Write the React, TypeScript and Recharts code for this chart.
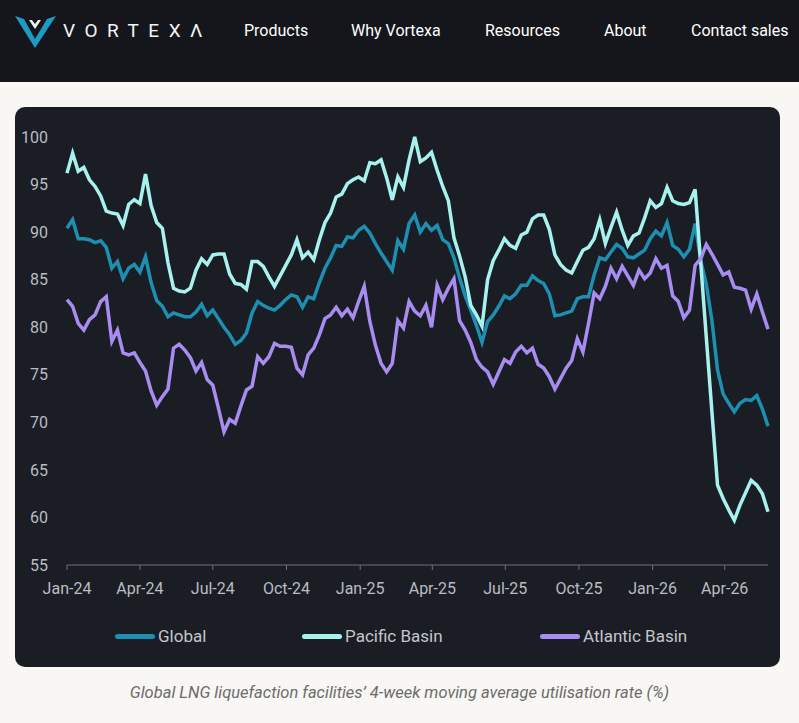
import React from 'react';
import { LineChart, Line, XAxis, YAxis } from 'recharts';

// weekly 4-week moving average utilisation rate (%), first week = Jan 1 2024
const GLOBAL = [
  90.4, 91.3, 89.3, 89.3, 89.2, 88.9, 89.1, 88.4, 86.2, 86.9,
  85.1, 86.2, 86.6, 85.8, 87.4, 84.7, 82.8, 82.2, 81.1, 81.5,
  81.3, 81.1, 81.1, 81.6, 82.4, 81.2, 81.8, 80.9, 80.0, 79.2,
  78.2, 78.6, 79.4, 81.5, 82.7, 82.3, 82.0, 81.8, 82.3, 82.9,
  83.4, 83.2, 82.1, 83.2, 83.0, 84.7, 86.2, 87.3, 88.6, 88.5,
  89.5, 89.4, 90.2, 90.6, 89.9, 88.8, 87.8, 86.9, 86.0, 89.1,
  88.2, 90.9, 91.8, 90.0, 90.9, 90.2, 90.7, 89.2, 88.8, 87.3,
  85.2, 83.3, 81.8, 80.2, 78.4, 80.6, 81.3, 82.2, 83.3, 83.0,
  83.5, 84.4, 84.4, 85.4, 84.9, 84.6, 83.5, 81.2, 81.3, 81.5,
  81.7, 83.0, 83.2, 83.2, 85.5, 87.3, 87.1, 87.9, 88.7, 88.3,
  87.4, 87.3, 87.7, 88.1, 89.3, 90.1, 89.6, 91.0, 88.6, 88.2,
  87.4, 88.2, 90.9, 87.0, 84.5, 80.7, 75.5, 73.0, 72.0, 71.1,
  72.0, 72.4, 72.3, 72.8, 71.4, 69.6,
];

const PACIFIC = [
  96.2, 98.3, 96.4, 96.8, 95.5, 94.8, 93.8, 92.2, 92.0, 91.9,
  90.7, 92.9, 93.4, 93.0, 96.1, 92.8, 91.0, 90.4, 86.8, 84.1,
  83.8, 83.7, 84.1, 86.0, 87.2, 86.6, 87.6, 87.7, 87.7, 85.6,
  84.6, 84.5, 84.0, 86.9, 86.9, 86.4, 85.3, 84.3, 85.4, 86.5,
  87.6, 89.2, 87.3, 87.9, 87.1, 89.2, 91.0, 92.0, 93.7, 94.0,
  95.1, 95.5, 95.8, 95.4, 97.3, 97.2, 97.6, 95.7, 93.4, 95.8,
  94.7, 97.6, 100.0, 97.4, 97.8, 98.4, 96.5, 94.8, 93.3, 89.4,
  87.5, 85.3, 82.3, 81.3, 80.1, 85.0, 87.0, 88.1, 89.3, 88.6,
  88.3, 89.7, 90.0, 91.4, 91.8, 91.8, 90.3, 87.6, 86.6, 86.0,
  85.7, 86.9, 88.1, 88.4, 89.3, 91.3, 88.8, 90.5, 92.1, 90.2,
  88.6, 89.6, 89.9, 91.5, 93.3, 92.6, 93.0, 94.7, 93.3, 93.0,
  92.9, 93.1, 94.5, 86.8, 78.9, 71.1, 63.4, 62.0, 60.8, 59.7,
  61.3, 62.6, 63.9, 63.4, 62.5, 60.6,
];

const ATLANTIC = [
  82.9, 82.2, 80.4, 79.7, 80.8, 81.3, 82.7, 83.2, 78.5, 79.7,
  77.3, 77.1, 77.3, 76.3, 75.4, 73.3, 71.8, 72.7, 73.5, 77.8,
  78.2, 77.6, 76.8, 75.4, 76.3, 74.5, 73.9, 71.5, 69.0, 70.3,
  69.9, 71.7, 73.4, 73.8, 76.9, 76.2, 76.9, 78.3, 78.0, 78.0,
  77.9, 75.7, 75.0, 77.1, 77.8, 79.2, 80.9, 81.3, 82.1, 81.2,
  81.9, 81.0, 82.7, 84.3, 80.6, 78.1, 76.2, 75.3, 76.2, 80.7,
  79.9, 82.7, 81.7, 81.2, 82.3, 80.0, 84.4, 82.9, 84.1, 85.1,
  80.7, 79.7, 78.4, 76.6, 75.8, 75.3, 74.0, 75.3, 76.6, 76.2,
  77.4, 78.0, 77.3, 77.8, 76.1, 75.7, 74.8, 73.5, 74.6, 75.7,
  76.5, 78.8, 77.4, 80.4, 83.6, 83.0, 84.3, 86.2, 85.1, 86.4,
  85.4, 84.4, 86.0, 85.1, 85.7, 87.2, 86.2, 86.5, 83.3, 82.7,
  81.0, 81.8, 86.5, 87.2, 88.7, 87.7, 86.6, 85.5, 85.8, 84.2,
  84.1, 83.9, 81.9, 83.5, 81.6, 79.8,
];

// x axis: days since Jan 1 2024
const TICK_DAYS = [0, 91, 182, 274, 366, 456, 547, 639, 731, 821];
const TICK_LABELS = ['Jan-24', 'Apr-24', 'Jul-24', 'Oct-24', 'Jan-25', 'Apr-25', 'Jul-25', 'Oct-25', 'Jan-26', 'Apr-26'];
const Y_TICKS = [55, 60, 65, 70, 75, 80, 85, 90, 95, 100];

const SERIES = [
  { key: 'global', name: 'Global', color: '#1d8fb0', values: GLOBAL },
  { key: 'pacific', name: 'Pacific Basin', color: '#a7f1ee', values: PACIFIC },
  { key: 'atlantic', name: 'Atlantic Basin', color: '#a88cf1', values: ATLANTIC },
];

const NAV = ['Products', 'Why Vortexa', 'Resources', 'About', 'Contact sales'];

const rows = GLOBAL.map((_, i) => ({
  day: i * 7,
  global: GLOBAL[i],
  pacific: PACIFIC[i],
  atlantic: ATLANTIC[i],
}));

const FONT = 'Roboto, "Noto Sans", sans-serif';
const navLeft = [244, 351, 485, 604, 691];
const legendLeft = [100, 287, 525];

function Header() {
  return (
    <div style={{ position: 'absolute', left: 0, top: 0, width: 799, height: 82, background: '#14161b' }}>
      <svg width={60} height={60} style={{ position: 'absolute', left: 12, top: 10 }}>
        <polygon points="3,6 23,38 44,6 35,9 23,29 12,9" fill="#1c9cc3" />
        <polygon points="17,10 23,19 29,10 26,10 23,14 20,10" fill="#e9f4f7" />
      </svg>
      <div
        style={{
          position: 'absolute', left: 63, top: 19, fontFamily: FONT, fontSize: 19,
          letterSpacing: 9.5, color: '#f2f4f6', fontWeight: 400,
        }}
      >
        VORTEXΛ
      </div>
      {NAV.map((label, i) => (
        <div
          key={label}
          style={{ position: 'absolute', left: navLeft[i], top: 21, fontFamily: FONT, fontSize: 16, color: '#ffffff' }}
        >
          {label}
        </div>
      ))}
    </div>
  );
}

export default function App() {
  return (
    <div
      style={{
        position: 'absolute', left: 0, top: 0, width: 799, height: 723,
        background: '#f8f7f4', overflow: 'hidden', fontFamily: FONT,
      }}
    >
      <Header />
      <div
        style={{
          position: 'absolute', left: 15, top: 107, width: 765, height: 560,
          borderRadius: 10, background: '#1b1d24', overflow: 'hidden',
        }}
      >
        <LineChart width={765} height={560} data={rows} margin={{ top: 30, right: 12, bottom: 72, left: 0 }}>
          <XAxis
            dataKey="day"
            type="number"
            domain={[0, 875]}
            ticks={TICK_DAYS}
            tickFormatter={(d: number) => TICK_LABELS[TICK_DAYS.indexOf(d)]}
            height={30}
            stroke="#6d7077"
            tickSize={5}
            tickMargin={13}
            tick={{ fill: '#b9bcc3', fontSize: 16, fontFamily: FONT }}
          />
          <YAxis
            domain={[55, 100]}
            ticks={Y_TICKS}
            width={52}
            axisLine={false}
            tickLine={false}
            tickSize={0}
            tickMargin={19}
            tick={{ fill: '#b9bcc3', fontSize: 16, fontFamily: FONT }}
          />
          {SERIES.map((s) => (
            <Line
              key={s.key}
              type="linear"
              dataKey={s.key}
              name={s.name}
              stroke={s.color}
              strokeWidth={3.5}
              dot={false}
              activeDot={false}
              isAnimationActive={false}
            />
          ))}
        </LineChart>
        {SERIES.map((s, i) => (
          <div
            key={s.key}
            style={{ position: 'absolute', left: legendLeft[i], top: 519, height: 20, display: 'flex', alignItems: 'center' }}
          >
            <div style={{ width: 40, height: 5, borderRadius: 3, background: s.color, marginRight: 3 }} />
            <span style={{ fontSize: 17, color: '#c3c6cc', fontFamily: FONT }}>{s.name}</span>
          </div>
        ))}
      </div>
      <div
        style={{
          position: 'absolute', left: 0, top: 683, width: 799, textAlign: 'center',
          fontSize: 16.5, fontStyle: 'italic', color: '#6c6c6c', fontFamily: FONT,
        }}
      >
        Global LNG liquefaction facilities’ 4-week moving average utilisation rate (%)
      </div>
    </div>
  );
}
